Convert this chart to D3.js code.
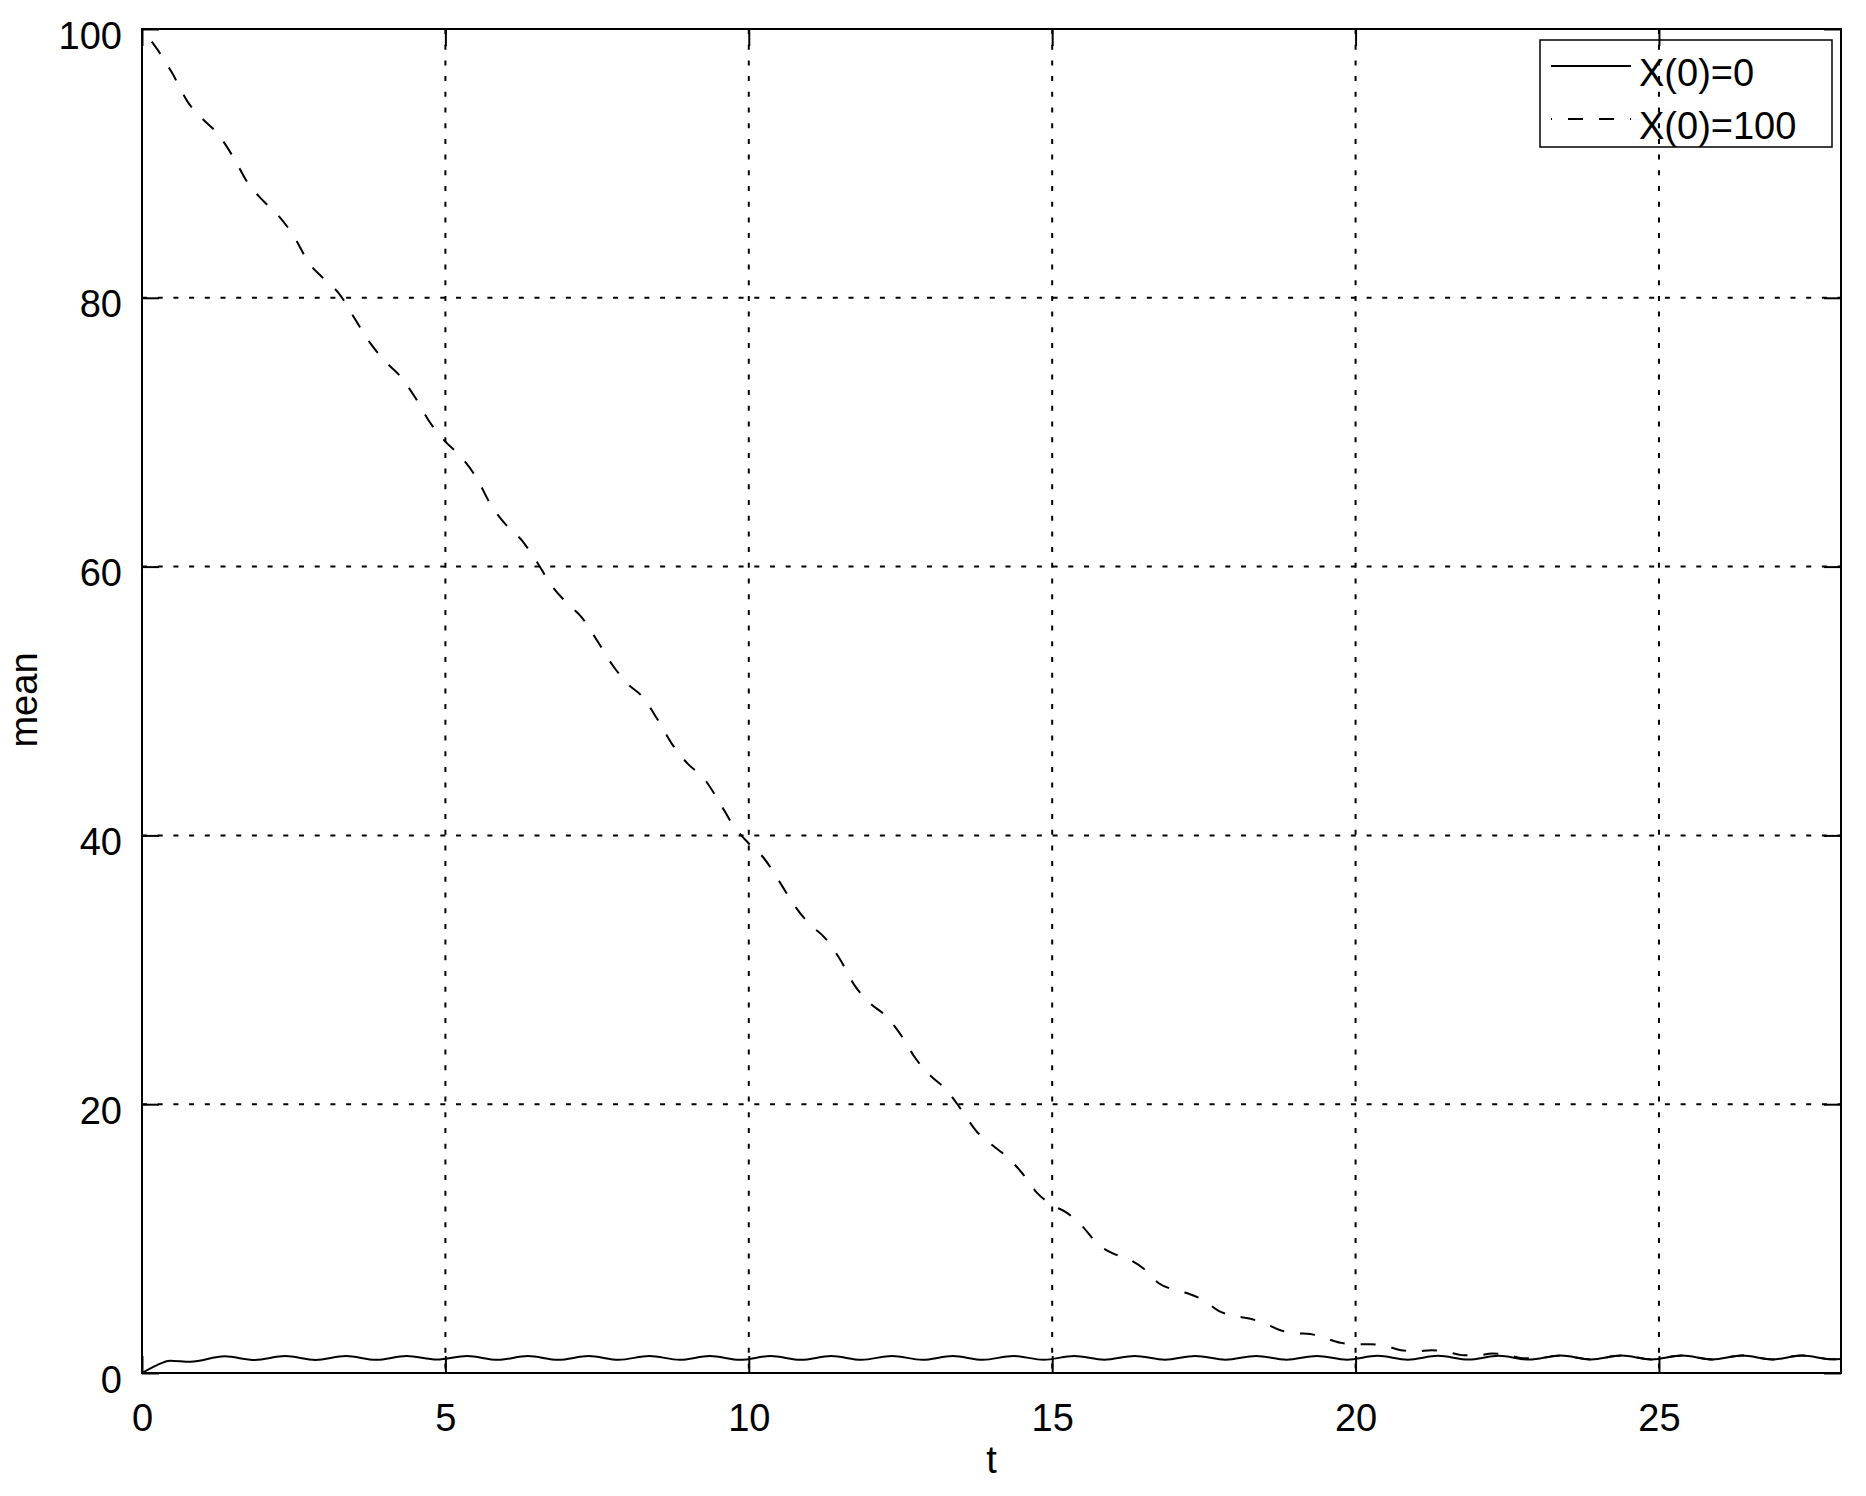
<!DOCTYPE html>
<html>
  <head>
    <meta charset="utf-8">
    <title>mean vs t</title>
    <style>
      body { margin: 0; background: #fff; }
      svg { display: block; background: #fff; font-family: "Liberation Sans", Arial, sans-serif; }
      .tick text { font-size: 38px; fill: #000; }
      .tick line { stroke: #000; stroke-width: 2; }
      .grid line { stroke: #000; stroke-width: 2; stroke-dasharray: 5,10.7; }
    </style>
  </head>
  <body>
    <script src="https://d3js.org/d3.v7.min.js"></script>
    <script>
      // ticks
      const xTicks = [0, 5, 10, 15, 20, 25]
      const yTicks = [0, 20, 40, 60, 80, 100]

      // X(0)=0, solid line (read at the peaks and troughs of the ripple)
      const tSolid = [0, 0.24, 0.46, 0.8, 1.36, 1.86, 2.36, 2.86, 3.36, 3.86, 4.36, 4.86,
        5.36, 5.86, 6.36, 6.86, 7.36, 7.86, 8.36, 8.86, 9.36, 9.86, 10.36, 10.86,
        11.36, 11.86, 12.36, 12.86, 13.36, 13.86, 14.36, 14.86, 15.36, 15.86, 16.36, 16.86,
        17.36, 17.86, 18.36, 18.86, 19.36, 19.86, 20.36, 20.86, 21.36, 21.86, 22.36, 22.86,
        23.38, 23.88, 24.38, 24.88, 25.38, 25.88, 26.37, 26.87, 27.36, 27.86, 28]
      const meanSolid = [0, 0.57, 0.92, 0.84, 1.24, 0.97, 1.26, 0.97, 1.26, 0.98, 1.26, 1.0,
        1.26, 0.98, 1.26, 0.98, 1.26, 0.98, 1.27, 0.98, 1.26, 0.98, 1.26, 0.98,
        1.26, 0.98, 1.27, 0.98, 1.26, 0.98, 1.27, 0.98, 1.27, 0.99, 1.27, 0.99,
        1.27, 0.99, 1.27, 0.99, 1.27, 0.99, 1.28, 0.99, 1.28, 1.0, 1.28, 1.0,
        1.3, 1.01, 1.3, 1.01, 1.3, 1.01, 1.3, 1.01, 1.3, 1.02, 1.05]

      // X(0)=100, dashed line
      const tDashed = [0, 0.25, 0.5, 0.75, 1, 1.25, 1.5, 1.75, 2, 2.25, 2.5, 2.75,
        3, 3.25, 3.5, 3.75, 4, 4.25, 4.5, 4.75, 5, 5.25, 5.5, 5.75,
        6, 6.25, 6.5, 6.75, 7, 7.25, 7.5, 7.75, 8, 8.25, 8.5, 8.75,
        9, 9.25, 9.5, 9.75, 10, 10.25, 10.5, 10.75, 11, 11.25, 11.5, 11.75,
        12, 12.25, 12.5, 12.75, 13, 13.25, 13.5, 13.75, 14, 14.25, 14.5, 14.75,
        15, 15.25, 15.5, 15.75, 16, 16.25, 16.5, 16.75, 17, 17.25, 17.5, 17.75,
        18, 18.25, 18.5, 18.75, 19, 19.25, 19.5, 19.75, 20, 20.25, 20.5, 20.75,
        21, 21.25, 21.5, 21.75, 22, 22.25, 22.5, 22.75, 23,
        23.38, 23.88, 24.38, 24.88, 25.38, 25.88, 26.37, 26.87, 27.36, 27.86, 28]
      const meanDashed = [100, 98.5, 96.7, 94.6, 93.3, 92.2, 90.5, 88.5, 87.2, 86.1, 84.6, 82.6,
        81.4, 80.3, 78.5, 76.7, 75.3, 74.2, 72.6, 70.7, 69.3, 68.2, 66.7, 64.6,
        63.1, 62.0, 60.4, 58.6, 57.3, 56.2, 54.5, 52.7, 51.3, 50.3, 48.6, 46.7,
        45.3, 44.3, 42.6, 40.7, 39.4, 38.3, 36.6, 34.8, 33.4, 32.4, 30.8, 28.8,
        27.5, 26.6, 25.2, 23.4, 22.1, 21.1, 19.6, 18.0, 17.0, 16.1, 14.9, 13.4,
        12.5, 11.9, 10.9, 9.6, 8.9, 8.5, 7.8, 6.7, 6.2, 5.9, 5.4, 4.6,
        4.25, 4.05, 3.7, 3.2, 2.97, 2.9, 2.6, 2.25, 2.15, 2.14, 2.0, 1.7,
        1.62, 1.7, 1.58, 1.33, 1.3, 1.45, 1.35, 1.1, 1.1,
        1.3, 1.01, 1.3, 1.01, 1.3, 1.01, 1.3, 1.01, 1.3, 1.02, 1.05]

      const legendLabels = ["X(0)=0", "X(0)=100"]

      const W = 1866
      const H = 1496
      const mLeft = 142, mRight = 1841, mTop = 29, mBottom = 1373
      const tickLen = 17

      const svg = d3.select("body").append("svg")
        .attr("width", W)
        .attr("height", H)

      const x = d3.scaleLinear().domain([0, 28]).range([mLeft, mRight])
      const y = d3.scaleLinear().domain([0, 100]).range([mBottom, mTop])

      // dotted grid
      const grid = svg.append("g").attr("class", "grid")
      grid.selectAll(".gx")
        .data(xTicks.filter(d => d > 0))
        .enter().append("line")
          .attr("x1", d => x(d)).attr("x2", d => x(d))
          .attr("y1", mTop).attr("y2", mBottom)
      grid.selectAll(".gy")
        .data(yTicks.filter(d => d > 0 && d < 100))
        .enter().append("line")
          .attr("x1", mLeft).attr("x2", mRight)
          .attr("y1", d => y(d)).attr("y2", d => y(d))

      // axes with inward ticks on all four sides
      svg.append("g")
        .attr("transform", "translate(0," + mBottom + ")")
        .call(d3.axisBottom(x).tickValues(xTicks).tickSize(-tickLen).tickSizeOuter(0).tickPadding(31))
      const yAxis = svg.append("g")
        .attr("transform", "translate(" + mLeft + ",0)")
        .call(d3.axisLeft(y).tickValues(yTicks).tickSize(-tickLen).tickSizeOuter(0).tickPadding(20))
      yAxis.selectAll("text").attr("dy", "0.5em")
      svg.append("g")
        .attr("transform", "translate(0," + mTop + ")")
        .call(d3.axisTop(x).tickValues(xTicks).tickSize(-tickLen).tickSizeOuter(0).tickFormat(""))
      svg.append("g")
        .attr("transform", "translate(" + mRight + ",0)")
        .call(d3.axisRight(y).tickValues(yTicks).tickSize(-tickLen).tickSizeOuter(0).tickFormat(""))
      svg.selectAll(".domain").remove()

      svg.append("rect")
        .attr("x", mLeft).attr("y", mTop)
        .attr("width", mRight - mLeft).attr("height", mBottom - mTop)
        .attr("fill", "none").attr("stroke", "#000").attr("stroke-width", 2)

      // curves
      const line = d3.line()
        .x(d => x(d[0]))
        .y(d => y(d[1]))
        .curve(d3.curveMonotoneX)

      svg.append("path")
        .datum(tSolid.map((t, i) => [t, meanSolid[i]]))
        .attr("d", line)
        .attr("fill", "none")
        .attr("stroke", "#000")
        .attr("stroke-width", 2)

      svg.append("path")
        .datum(tDashed.map((t, i) => [t, meanDashed[i]]))
        .attr("d", line)
        .attr("fill", "none")
        .attr("stroke", "#000")
        .attr("stroke-width", 2)
        .attr("stroke-dasharray", "15,16")
        .attr("stroke-dashoffset", 15)

      // axis labels
      svg.append("text")
        .attr("x", (mLeft + mRight) / 2)
        .attr("y", 1473)
        .attr("text-anchor", "middle")
        .attr("font-size", 38)
        .text("t")
      svg.append("text")
        .attr("transform", "translate(37,700) rotate(-90)")
        .attr("text-anchor", "middle")
        .attr("font-size", 38)
        .text("mean")

      // legend
      const legend = svg.append("g")
      legend.append("rect")
        .attr("x", 1540).attr("y", 40)
        .attr("width", 292).attr("height", 107)
        .attr("fill", "none").attr("stroke", "#000").attr("stroke-width", 1.5)
      const rows = [66, 119]
      legendLabels.forEach((label, i) => {
        legend.append("line")
          .attr("x1", 1551).attr("x2", 1631)
          .attr("y1", rows[i]).attr("y2", rows[i])
          .attr("stroke", "#000").attr("stroke-width", 2)
          .attr("stroke-dasharray", i === 1 ? "15,16" : null)
          .attr("stroke-dashoffset", i === 1 ? 14 : null)
        legend.append("text")
          .attr("x", 1639)
          .attr("y", rows[i] + 20)
          .attr("font-size", 38)
          .text(label)
      })
    </script>
  </body>
</html>
